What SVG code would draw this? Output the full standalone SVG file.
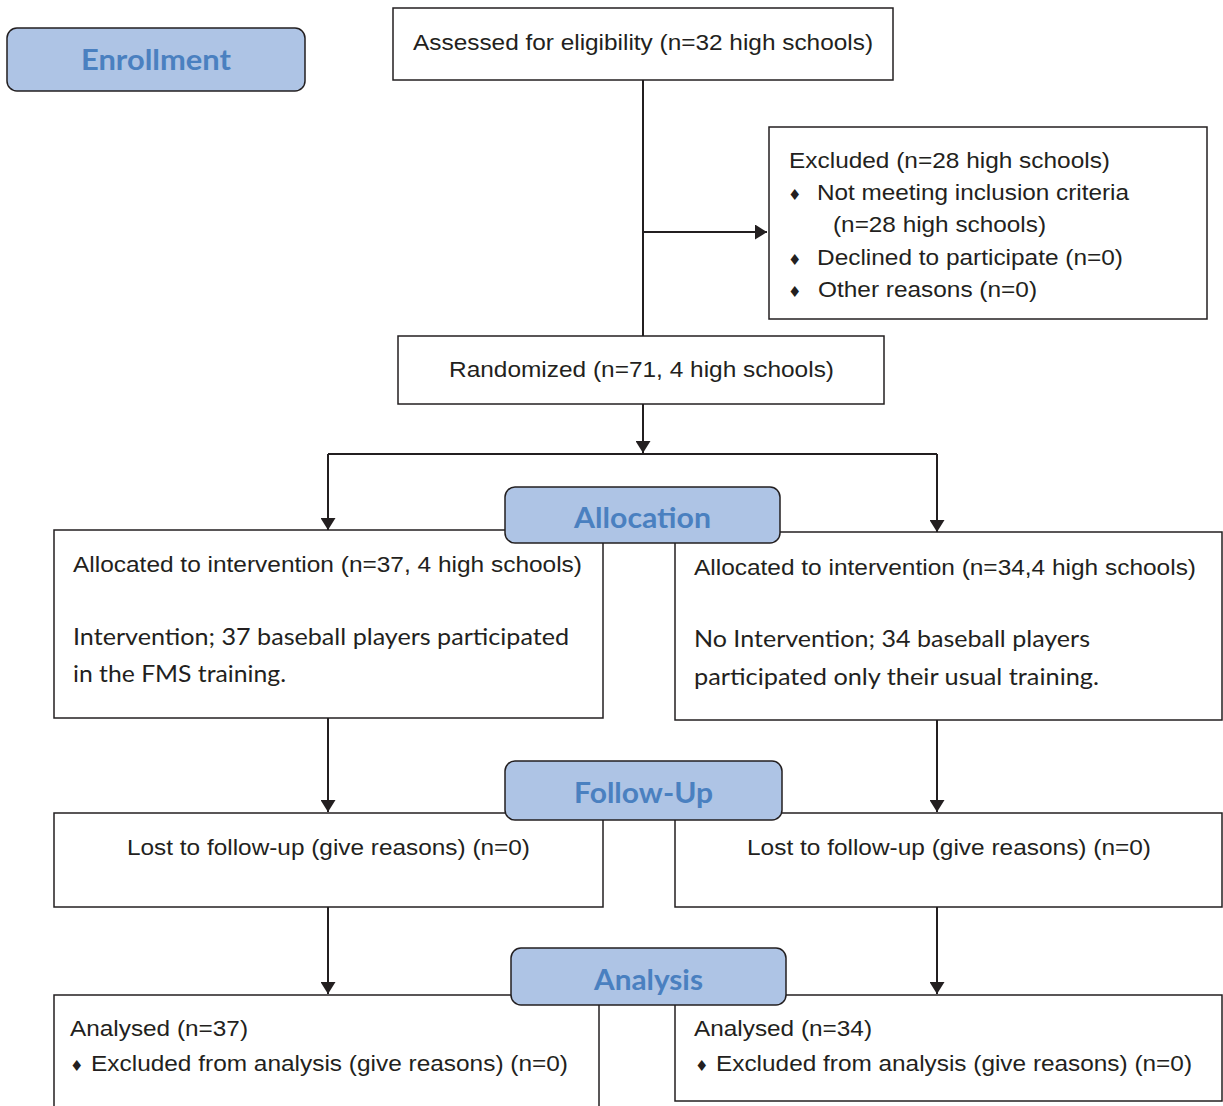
<svg xmlns="http://www.w3.org/2000/svg" width="1223" height="1106" viewBox="0 0 1223 1106">
<style>
.box{fill:#fff;stroke:#231f20;stroke-width:1.5}
.lab{fill:#aec4e5;stroke:#231f20;stroke-width:1.5}
.lt{font-family:Lato,"Open Sans",sans-serif;font-weight:bold;font-size:29px;fill:#4a80c0;text-anchor:middle}
.t{font-family:"Liberation Sans",Arial,sans-serif;font-size:22px;fill:#231f20}
.c{font-family:Lato,"Open Sans",sans-serif;font-size:23px;fill:#231f20}
.b{font-family:"DejaVu Sans",sans-serif;font-size:15px;fill:#231f20}
.m{text-anchor:middle}
.ln{fill:none;stroke:#231f20;stroke-width:2}
</style>
<defs>
<marker id="ah" markerWidth="12" markerHeight="15" refX="12" refY="7.5" orient="auto" markerUnits="userSpaceOnUse">
<path d="M0,0 L12,7.5 L0,15 Z" fill="#231f20"/>
</marker>
</defs>
<rect width="1223" height="1106" fill="#fff"/>
<g id="connectors">
<path class="ln" d="M643,80 V336"/>
<path class="ln" d="M643,232 H767" marker-end="url(#ah)"/>
<path class="ln" d="M643,404 V453" marker-end="url(#ah)"/>
<path class="ln" d="M328,454 H937"/>
<path class="ln" d="M328,454 V530" marker-end="url(#ah)"/>
<path class="ln" d="M937,454 V532" marker-end="url(#ah)"/>
<path class="ln" d="M328,718 V812" marker-end="url(#ah)"/>
<path class="ln" d="M937,720 V812" marker-end="url(#ah)"/>
<path class="ln" d="M328,907 V994" marker-end="url(#ah)"/>
<path class="ln" d="M937,907 V994" marker-end="url(#ah)"/>
</g>
<g id="assessed">
<rect class="box" x="393" y="8" width="500" height="72"/>
<text class="t m" x="643" y="50" textLength="460" lengthAdjust="spacingAndGlyphs">Assessed for eligibility (n=32 high schools)</text>
</g>
<g id="excluded">
<rect class="box" x="769" y="127" width="438" height="192"/>
<text class="t" x="789" y="168" textLength="321" lengthAdjust="spacingAndGlyphs">Excluded (n=28 high schools)</text>
<text class="b" x="788" y="200">♦</text>
<text class="t" x="817" y="200" textLength="312" lengthAdjust="spacingAndGlyphs">Not meeting inclusion criteria</text>
<text class="t" x="833" y="232" textLength="213" lengthAdjust="spacingAndGlyphs">(n=28 high schools)</text>
<text class="b" x="788" y="265">♦</text>
<text class="t" x="817" y="265" textLength="306" lengthAdjust="spacingAndGlyphs">Declined to participate (n=0)</text>
<text class="b" x="788" y="297">♦</text>
<text class="t" x="818" y="297" textLength="219" lengthAdjust="spacingAndGlyphs">Other reasons (n=0)</text>
</g>
<g id="randomized">
<rect class="box" x="398" y="336" width="486" height="68"/>
<text class="t m" x="641.5" y="377" textLength="385" lengthAdjust="spacingAndGlyphs">Randomized (n=71, 4 high schools)</text>
</g>
<g id="alloc-left">
<rect class="box" x="54" y="530" width="549" height="188"/>
<text class="t" x="73" y="572" textLength="509" lengthAdjust="spacingAndGlyphs">Allocated to intervention (n=37, 4 high schools)</text>
<text class="c" x="73" y="645" textLength="496" lengthAdjust="spacingAndGlyphs">Intervention; 37 baseball players participated</text>
<text class="c" x="73" y="682" textLength="213" lengthAdjust="spacingAndGlyphs">in the FMS training.</text>
</g>
<g id="alloc-right">
<rect class="box" x="675" y="532" width="547" height="188"/>
<text class="t" x="694" y="575" textLength="502" lengthAdjust="spacingAndGlyphs">Allocated to intervention (n=34,4 high schools)</text>
<text class="c" x="694" y="647" textLength="396" lengthAdjust="spacingAndGlyphs">No Intervention; 34 baseball players</text>
<text class="c" x="694" y="685" textLength="405" lengthAdjust="spacingAndGlyphs">participated only their usual training.</text>
</g>
<g id="fu-left">
<rect class="box" x="54" y="813" width="549" height="94"/>
<text class="t m" x="328.5" y="855" textLength="403" lengthAdjust="spacingAndGlyphs">Lost to follow-up (give reasons) (n=0)</text>
</g>
<g id="fu-right">
<rect class="box" x="675" y="813" width="547" height="94"/>
<text class="t m" x="949" y="855" textLength="404" lengthAdjust="spacingAndGlyphs">Lost to follow-up (give reasons) (n=0)</text>
</g>
<g id="an-left">
<rect class="box" x="54" y="995" width="545" height="120"/>
<text class="t" x="70" y="1036" textLength="178" lengthAdjust="spacingAndGlyphs">Analysed (n=37)</text>
<text class="b" x="70" y="1071">♦</text>
<text class="t" x="91" y="1071" textLength="477" lengthAdjust="spacingAndGlyphs">Excluded from analysis (give reasons) (n=0)</text>
</g>
<g id="an-right">
<rect class="box" x="675" y="995" width="547" height="106"/>
<text class="t" x="694" y="1036" textLength="178" lengthAdjust="spacingAndGlyphs">Analysed (n=34)</text>
<text class="b" x="695" y="1071">♦</text>
<text class="t" x="716" y="1071" textLength="476" lengthAdjust="spacingAndGlyphs">Excluded from analysis (give reasons) (n=0)</text>
</g>
<g id="enrollment">
<rect class="lab" x="7" y="28" width="298" height="63" rx="10"/>
<text class="lt" x="156" y="70" textLength="150" lengthAdjust="spacingAndGlyphs">Enrollment</text>
</g>
<g id="allocation">
<rect class="lab" x="505" y="487" width="275" height="56" rx="10"/>
<text class="lt" x="642.5" y="528" textLength="137" lengthAdjust="spacingAndGlyphs">Allocation</text>
</g>
<g id="followup">
<rect class="lab" x="505" y="761" width="277" height="59" rx="10"/>
<text class="lt" x="643.5" y="803" textLength="139" lengthAdjust="spacingAndGlyphs">Follow-Up</text>
</g>
<g id="analysis">
<rect class="lab" x="511" y="948" width="275" height="57" rx="10"/>
<text class="lt" x="648.5" y="990" textLength="109" lengthAdjust="spacingAndGlyphs">Analysis</text>
</g>
</svg>
